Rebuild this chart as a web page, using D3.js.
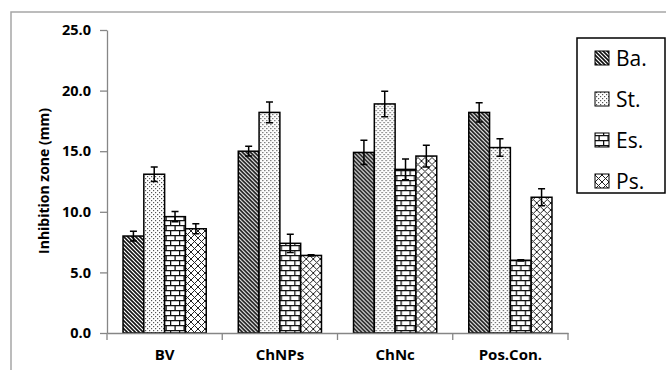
<!DOCTYPE html>
<html>
<head>
<meta charset="utf-8">
<script src="https://cdn.jsdelivr.net/npm/d3@7"></script>
<style>
  body { margin: 0; background: #fff; }
  svg { display: block; font-family: "Open Sans", sans-serif; }
</style>
</head>
<body>
<script>
// data
const categories = ["BV", "ChNPs", "ChNc", "Pos.Con."]
const series = ["Ba.", "St.", "Es.", "Ps."]
const baValues = [8.0, 15.0, 14.9, 18.2]
const stValues = [13.1, 18.2, 18.9, 15.3]
const esValues = [9.6, 7.4, 13.5, 6.0]
const psValues = [8.6, 6.4, 14.6, 11.2]
const baErr = [0.4, 0.4, 1.0, 0.8]
const stErr = [0.6, 0.85, 1.05, 0.72]
const esErr = [0.43, 0.75, 0.85, 0.05]
const psErr = [0.42, 0.05, 0.9, 0.7]
const yTicks = [0, 5, 10, 15, 20, 25]

const values = [baValues, stValues, esValues, psValues]
const errors = [baErr, stErr, esErr, psErr]
const patternIds = ["pBa", "pSt", "pEs", "pPs"]

const width = 666, height = 370
const margin = {top: 30, left: 107, right: 98, bottom: 37}

const svg = d3.select("body").append("svg")
    .attr("width", width)
    .attr("height", height)

// patterns for the bar fills
const defs = svg.append("defs")

const pBa = defs.append("pattern").attr("id", "pBa")
    .attr("patternUnits", "userSpaceOnUse").attr("width", 4).attr("height", 4)
pBa.append("rect").attr("width", 4).attr("height", 4).attr("fill", "#fff")
pBa.append("path").attr("d", "M-1,-1 L5,5 M3,-1 L5,1 M-1,3 L1,5")
    .attr("stroke", "#111").attr("stroke-width", 1.6)

const pSt = defs.append("pattern").attr("id", "pSt")
    .attr("patternUnits", "userSpaceOnUse").attr("width", 4).attr("height", 4)
pSt.append("rect").attr("width", 4).attr("height", 4).attr("fill", "#fff")
pSt.append("rect").attr("x", 0).attr("y", 0).attr("width", 1.2).attr("height", 1.2).attr("fill", "#555")
pSt.append("rect").attr("x", 2).attr("y", 2).attr("width", 1.2).attr("height", 1.2).attr("fill", "#555")

const pEs = defs.append("pattern").attr("id", "pEs")
    .attr("patternUnits", "userSpaceOnUse").attr("width", 9).attr("height", 10)
pEs.append("rect").attr("width", 9).attr("height", 10).attr("fill", "#fff")
pEs.append("path").attr("d", "M0,0.6 H9 M0,5.6 H9 M0.6,0.6 V5.6 M5.1,5.6 V10.6")
    .attr("stroke", "#111").attr("stroke-width", 1.3)

const pPs = defs.append("pattern").attr("id", "pPs")
    .attr("patternUnits", "userSpaceOnUse").attr("width", 7).attr("height", 7)
pPs.append("rect").attr("width", 7).attr("height", 7).attr("fill", "#fff")
pPs.append("path").attr("d", "M0,0 L7,7 M7,0 L0,7")
    .attr("stroke", "#222").attr("stroke-width", 1)

// outer frame (only top and left show)
svg.append("path")
    .attr("d", "M11,370 V12 H666")
    .attr("fill", "none").attr("stroke", "#a6a6a6").attr("stroke-width", 1.5)

// scales
const x0 = d3.scaleBand()
    .domain(categories)
    .range([margin.left, width - margin.right])

const x1 = d3.scaleBand()
    .domain(series)
    .range([0, x0.bandwidth()])
    .paddingOuter(0.77)

const yScale = d3.scaleLinear()
    .domain([0, 25])
    .range([height - margin.bottom, margin.top])

// y axis
const yAxis = svg.append("g")
    .attr("transform", "translate(" + margin.left + ",0)")
    .call(d3.axisLeft(yScale).tickValues(yTicks).tickFormat(d3.format(".1f"))
        .tickSize(7).tickSizeOuter(0).tickPadding(9))
yAxis.select(".domain").attr("stroke", "#868686").attr("stroke-width", 1.3)
yAxis.selectAll(".tick line").attr("stroke", "#868686").attr("stroke-width", 1.3)
yAxis.selectAll("text").attr("font-size", "14.5px").attr("font-weight", "bold")
    .attr("fill", "#000").attr("font-family", "Open Sans")

// bars
const groups = svg.selectAll(".grp").data(categories)
    .enter().append("g")
    .attr("transform", d => "translate(" + x0(d) + ",0)")

groups.each(function(cat, ci) {
    const g = d3.select(this)
    series.forEach((s, si) => {
        const v = values[si][ci]
        g.append("rect")
            .attr("x", x1(s))
            .attr("y", yScale(v))
            .attr("width", x1.bandwidth())
            .attr("height", yScale(0) - yScale(v))
            .attr("fill", "url(#" + patternIds[si] + ")")
            .attr("stroke", "#000")
            .attr("stroke-width", 1.5)
    })
})

// x axis line and boundary ticks
const xAxis = svg.append("g")
    .attr("transform", "translate(0," + yScale(0) + ")")
    .call(d3.axisBottom(x0).tickSize(0).tickPadding(16).tickSizeOuter(0))
xAxis.select(".domain").attr("stroke", "#868686").attr("stroke-width", 1.3)
xAxis.selectAll("text").attr("font-size", "15px").attr("font-weight", "bold")
    .attr("fill", "#000").attr("font-family", "Open Sans")

const bounds = categories.map(c => x0(c)).concat([x0.range()[1]])
xAxis.selectAll(".bound").data(bounds)
    .enter().append("line")
    .attr("x1", d => d).attr("x2", d => d)
    .attr("y1", 0).attr("y2", 7)
    .attr("stroke", "#868686").attr("stroke-width", 1.3)

// error bars
groups.each(function(cat, ci) {
    const g = d3.select(this)
    series.forEach((s, si) => {
        const v = values[si][ci], e = errors[si][ci]
        const cx = x1(s) + x1.bandwidth() / 2
        g.append("path")
            .attr("d", "M" + (cx - 3.5) + "," + yScale(v + e) + " H" + (cx + 3.5) +
                " M" + cx + "," + yScale(v + e) + " V" + yScale(v - e) +
                " M" + (cx - 3.5) + "," + yScale(v - e) + " H" + (cx + 3.5))
            .attr("fill", "none")
            .attr("stroke", "#000")
            .attr("stroke-width", 1.5)
    })
})

// y axis title
svg.append("text")
    .attr("transform", "translate(49,181) rotate(-90)")
    .attr("text-anchor", "middle")
    .attr("font-size", "14px")
    .attr("font-weight", "bold")
    .text("Inhibition zone (mm)")

// legend
const legend = svg.append("g")
legend.append("rect")
    .attr("x", 577).attr("y", 38)
    .attr("width", 88).attr("height", 155)
    .attr("fill", "#fff").attr("stroke", "#000").attr("stroke-width", 1.5)

const legendY = d3.scalePoint().domain(series).range([58, 181])
series.forEach((s, si) => {
    legend.append("rect")
        .attr("x", 595).attr("y", legendY(s) - 7)
        .attr("width", 14).attr("height", 14)
        .attr("fill", "url(#" + patternIds[si] + ")")
        .attr("stroke", "#000").attr("stroke-width", 1)
    legend.append("text")
        .attr("x", 616).attr("y", legendY(s))
        .attr("dy", "0.36em")
        .attr("font-size", "21px")
        .text(s)
})
</script>
</body>
</html>
